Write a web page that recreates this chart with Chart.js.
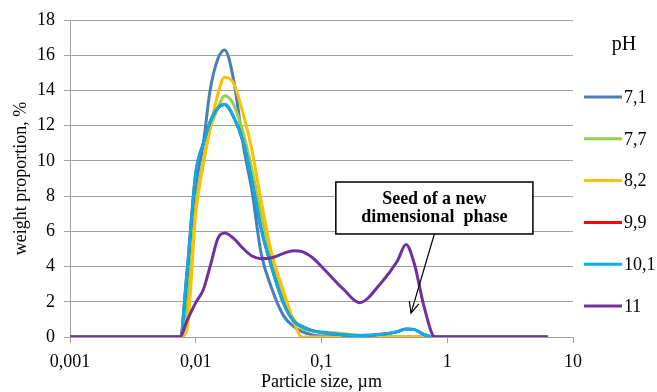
<!DOCTYPE html>
<html><head><meta charset="utf-8">
<script src="https://cdn.jsdelivr.net/npm/chart.js@4.4.1/dist/chart.umd.min.js"></script>
<style>html,body{margin:0;padding:0;background:#fff;overflow:hidden}</style>
</head><body>
<canvas id="c" width="657" height="392" style="width:657px;height:392px;display:block"></canvas>
<script>
// Particle sizes, µm
const sizes = [0.001, 0.0075, 0.0085, 0.01, 0.0115, 0.013, 0.015, 0.017, 0.02, 0.024, 0.028, 0.033, 0.04, 0.05, 0.06, 0.07, 0.085, 0.1, 0.15, 0.2, 0.3, 0.4, 0.47, 0.55, 0.65, 0.8, 1, 6.3];
// weight proportion, % for each pH
const ph71  = [0, 0, 2.5, 8.5, 11.0, 14.0, 15.8, 16.3, 14.6, 10.8, 8.3, 4.8, 2.8, 1.2, 0.6, 0.3, 0.12, 0.05, 0.02, 0, 0, 0, 0, 0, 0, 0, 0, 0];
const ph77  = [0, 0, 1.5, 7.5, 10.0, 11.8, 13.0, 13.7, 13.2, 11.5, 9.5, 7.0, 4.6, 2.3, 1.0, 0.5, 0.35, 0.3, 0.18, 0.1, 0.05, 0.02, 0, 0, 0, 0, 0, 0];
const ph82  = [0, 0, 0.4, 7.0, 9.8, 11.8, 13.8, 14.75, 14.4, 12.6, 10.6, 7.8, 4.8, 2.6, 0.9, 0, 0, 0, 0, 0, 0, 0, 0, 0, 0, 0, 0, 0];
const ph99  = [0, 0, 3.6, 9.3, 11.0, 12.2, 13.0, 13.2, 12.5, 11.0, 8.8, 6.2, 4.0, 1.9, 0.9, 0.6, 0.35, 0.25, 0.12, 0.08, 0.15, 0.3, 0.45, 0.42, 0.15, 0, 0, 0];
const ph101 = [0, 0, 3.6, 9.3, 11.0, 12.2, 13.0, 13.2, 12.5, 11.0, 8.8, 6.2, 4.0, 1.9, 0.9, 0.6, 0.35, 0.25, 0.12, 0.08, 0.15, 0.3, 0.45, 0.42, 0.15, 0, 0, 0];
const ph11  = [0, 0, 0.9, 1.95, 2.7, 4.0, 5.6, 5.9, 5.6, 5.0, 4.6, 4.45, 4.5, 4.75, 4.9, 4.85, 4.5, 4.0, 2.7, 1.95, 3.1, 4.3, 5.25, 4.1, 1.8, 0, 0, 0];
const seriesLabels = ['7,1', '7,7', '8,2', '9,9', '10,1', '11'];
const seriesValues = [ph71, ph77, ph82, ph99, ph101, ph11];
const seriesColors = ['#4A7EBB', '#92D050', '#FFC000', '#FF0000', '#00B0F0', '#7030A0'];
const xTickValues = [0.001, 0.01, 0.1, 1, 10];
const yTickValues = [0, 2, 4, 6, 8, 10, 12, 14, 16, 18];
const legendTitle = 'pH';
const xTitle = 'Particle size, µm';
const yTitle = 'weight proportion, %';
const noteLines = ['Seed of a new', 'dimensional  phase'];
// annotation anchors in data units (µm, %)
const noteBoxX = [0.13, 4.8];
const noteBoxY = [8.8, 5.85];
const noteArrowFrom = [0.79, 5.85];
const noteArrowTo = [0.515, 1.36];

const SERIF = '"Liberation Serif","Times New Roman",serif';
const GRID = '#a0a0a0';

const datasets = seriesLabels.map((lab, k) => ({
  label: lab,
  data: sizes.map((s, i) => ({x: s, y: seriesValues[k][i]})),
  borderColor: seriesColors[k],
  backgroundColor: seriesColors[k],
  borderWidth: 3,
  pointRadius: 0,
  fill: false,
  cubicInterpolationMode: 'monotone',
  order: seriesLabels.length - k
}));

const legendPlugin = {
  id: 'sideLegend',
  afterDraw(chart) {
    const ctx = chart.ctx;
    const a = chart.chartArea;
    ctx.save();
    ctx.fillStyle = '#000';
    ctx.textBaseline = 'middle';
    ctx.font = '20px ' + SERIF;
    ctx.textAlign = 'center';
    ctx.fillText(legendTitle, a.right + 51, 45);
    ctx.font = '18px ' + SERIF;
    ctx.textAlign = 'left';
    chart.data.datasets.forEach((ds, i) => {
      const y = 97 + i * 41.8;
      ctx.strokeStyle = ds.borderColor;
      ctx.lineWidth = 3;
      ctx.beginPath();
      ctx.moveTo(a.right + 11, y);
      ctx.lineTo(a.right + 49, y);
      ctx.stroke();
      ctx.fillText(ds.label, a.right + 51, y + 1);
    });
    ctx.restore();
  }
};

const notePlugin = {
  id: 'note',
  afterDatasetsDraw(chart) {
    const ctx = chart.ctx;
    const xs = chart.scales.x, ys = chart.scales.y;
    const x0 = xs.getPixelForValue(noteBoxX[0]), x1 = xs.getPixelForValue(noteBoxX[1]);
    const y0 = ys.getPixelForValue(noteBoxY[0]), y1 = ys.getPixelForValue(noteBoxY[1]);
    const ax = xs.getPixelForValue(noteArrowFrom[0]), ay = ys.getPixelForValue(noteArrowFrom[1]);
    const bx = xs.getPixelForValue(noteArrowTo[0]), by = ys.getPixelForValue(noteArrowTo[1]);
    ctx.save();
    ctx.strokeStyle = '#000';
    ctx.lineWidth = 1.2;
    ctx.beginPath();
    ctx.moveTo(ax, ay); ctx.lineTo(bx, by); ctx.stroke();
    const ang = Math.atan2(by - ay, bx - ax);
    const L = 12, w = 0.42;
    ctx.beginPath();
    ctx.moveTo(bx - L * Math.cos(ang - w), by - L * Math.sin(ang - w));
    ctx.lineTo(bx, by);
    ctx.lineTo(bx - L * Math.cos(ang + w), by - L * Math.sin(ang + w));
    ctx.stroke();
    ctx.fillStyle = '#fff';
    ctx.fillRect(x0, y0, x1 - x0, y1 - y0);
    ctx.lineWidth = 1.5;
    ctx.strokeRect(x0, y0, x1 - x0, y1 - y0);
    ctx.fillStyle = '#000';
    ctx.font = 'bold 18px ' + SERIF;
    ctx.textAlign = 'center';
    ctx.textBaseline = 'middle';
    const cx = (x0 + x1) / 2, cy = (y0 + y1) / 2;
    ctx.fillText(noteLines[0], cx, cy - 9);
    ctx.fillText(noteLines[1], cx, cy + 9.5);
    ctx.restore();
  }
};

new Chart(document.getElementById('c'), {
  type: 'line',
  data: { datasets },
  options: {
    responsive: false,
    devicePixelRatio: 1,
    animation: false,
    layout: { padding: { top: 20, right: 84, left: 0, bottom: 0 } },
    plugins: { legend: { display: false }, tooltip: { enabled: false } },
    scales: {
      x: {
        type: 'logarithmic',
        min: 0.001, max: 10,
        afterBuildTicks(s) { s.ticks = xTickValues.map(v => ({value: v})); },
        afterFit(s) { s.height = 55; },
        ticks: {
          autoSkip: false, maxRotation: 0, padding: 8, color: '#000',
          font: { family: SERIF, size: 18 },
          callback: (v) => String(v).replace('.', ',')
        },
        grid: { drawOnChartArea: false, drawTicks: true, tickLength: 6, color: GRID, lineWidth: 1 },
        border: { display: true, color: GRID, width: 1 },
        title: { display: true, text: xTitle, color: '#000', font: { family: SERIF, size: 18, lineHeight: 1.0 }, padding: { top: 0, bottom: 1 } }
      },
      y: {
        min: 0, max: 18,
        afterBuildTicks(s) { s.ticks = yTickValues.map(v => ({value: v})); },
        afterFit(s) { s.width = 70; },
        ticks: { padding: 9, color: '#000', font: { family: SERIF, size: 18 } },
        grid: { drawTicks: true, tickLength: 6, color: GRID, lineWidth: 1 },
        border: { display: true, color: GRID, width: 1 },
        title: { display: true, text: yTitle, color: '#000', font: { family: SERIF, size: 18, lineHeight: 1.2 }, padding: { top: 10, bottom: 0 } }
      }
    }
  },
  plugins: [notePlugin, legendPlugin]
});
</script>
</body></html>
